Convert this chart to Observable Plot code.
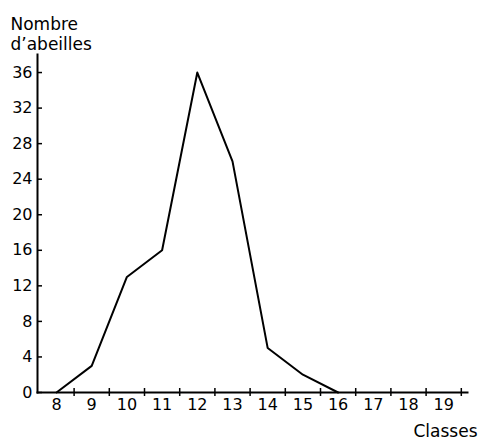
<!DOCTYPE html>
<html><head><meta charset="utf-8">
<script src="https://cdn.jsdelivr.net/npm/d3@7"></script>
<script src="https://cdn.jsdelivr.net/npm/@observablehq/plot@0.6"></script>
<style>
body{margin:0;background:#fff}
svg{font-family:"DejaVu Sans",sans-serif}
</style>
</head><body><div id="chart"></div>
<script>
const classes = [8, 9, 10, 11, 12, 13, 14, 15, 16];
const counts = [0, 3, 13, 16, 36, 26, 5, 2, 0];
const xTickLabels = [8, 9, 10, 11, 12, 13, 14, 15, 16, 17, 18, 19];
const classBounds = [8.5, 9.5, 10.5, 11.5, 12.5, 13.5, 14.5, 15.5, 16.5, 17.5, 18.5, 19.5];
const yTicks = [0, 4, 8, 12, 16, 20, 24, 28, 32, 36];
const yTitleLines = ["Nombre", "d’abeilles"];
const xTitle = "Classes";

const data = classes.map((c, i) => ({classe: c, n: counts[i]}));

const chart = Plot.plot({
  width: 480,
  height: 440,
  marginLeft: 37,
  marginRight: 13,
  marginTop: 54,
  marginBottom: 48,
  x: {domain: [7.46, 19.676]},
  y: {domain: [0, 38.03]},
  style: {fontFamily: "DejaVu Sans", fontSize: "16px", color: "black", background: "white"},
  marks: [
    Plot.frame({anchor: "left", strokeWidth: 2}),
    Plot.frame({anchor: "bottom", strokeWidth: 2}),
    Plot.axisX(xTickLabels, {tickSize: 0, tickPadding: 6, fontSize: 16, label: null}),
    Plot.axisX(classBounds, {tickSize: 8, dy: -4, fill: "none", strokeWidth: 1.5, label: null}),
    Plot.axisY(yTicks, {tickSize: 0, tickPadding: 5, fontSize: 16, label: null}),
    Plot.axisY(yTicks, {tickSize: 5, dx: 5, fill: "none", strokeWidth: 1.5, label: null}),
    Plot.line(data, {x: "classe", y: "n", stroke: "black", strokeWidth: 2}),
    Plot.text([yTitleLines.join("\n")], {frameAnchor: "top-left", textAnchor: "start", lineAnchor: "top", dx: -27, dy: -39, fontSize: 17, lineHeight: 1.18, fill: "black"}),
    Plot.text([xTitle], {frameAnchor: "bottom-right", textAnchor: "end", lineAnchor: "bottom", dx: 10, dy: 44, fontSize: 17, fill: "black"})
  ]
});
document.getElementById("chart").append(chart);
</script>
</body></html>
